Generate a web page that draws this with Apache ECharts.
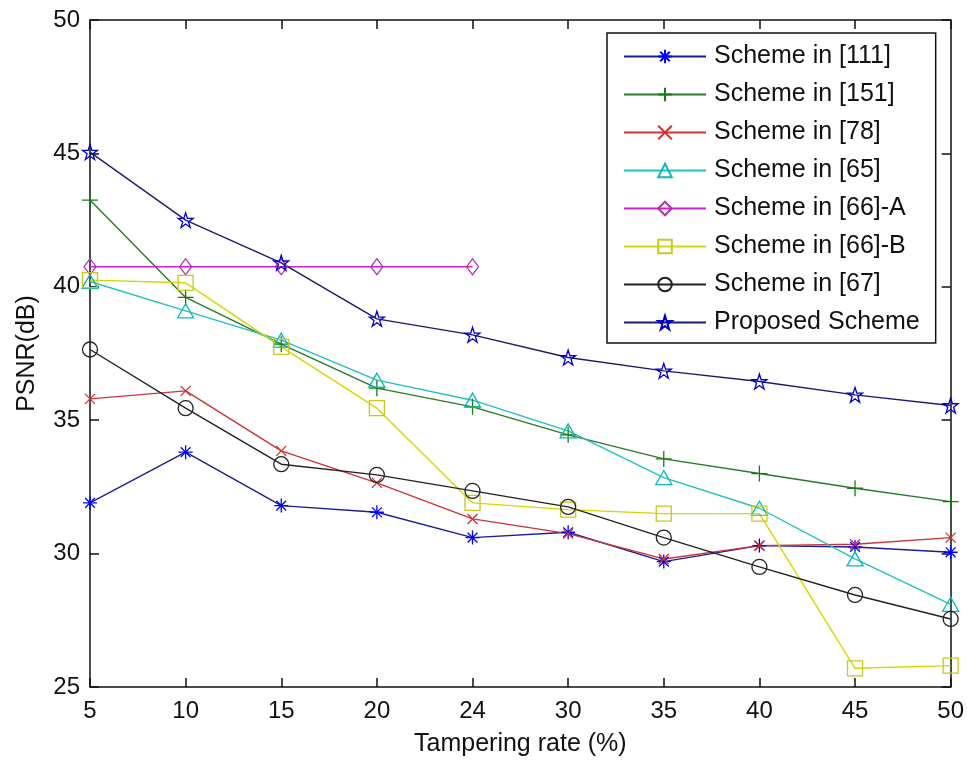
<!DOCTYPE html>
<html>
<head>
<meta charset="utf-8">
<script src="https://cdn.jsdelivr.net/npm/echarts@6/dist/echarts.min.js"></script>
<style>html,body{margin:0;padding:0;background:#fff}#c{width:967px;height:762px}</style>
</head>
<body>
<div id="c"></div>
<script>
var categories = ['5','10','15','20','24','30','35','40','45','50'];
var s111 = [31.9, 33.8, 31.8, 31.55, 30.6, 30.8, 29.7, 30.3, 30.25, 30.05];
var s151 = [43.25, 39.6, 37.85, 36.2, 35.5, 34.45, 33.55, 33.0, 32.45, 31.95];
var s78 = [35.8, 36.1, 33.85, 32.65, 31.3, 30.75, 29.8, 30.3, 30.35, 30.6];
var s65 = [40.2, 39.1, 38.0, 36.5, 35.75, 34.6, 32.85, 31.7, 29.8, 28.1];
var s66A = [40.75, 40.75, 40.75, 40.75, 40.75];
var s66B = [40.25, 40.15, 37.75, 35.45, 31.9, 31.65, 31.5, 31.5, 25.7, 25.8];
var s67 = [37.65, 35.45, 33.35, 32.95, 32.35, 31.75, 30.6, 29.5, 28.45, 27.55];
var sProp = [45.05, 42.5, 40.9, 38.8, 38.2, 37.35, 36.85, 36.45, 35.95, 35.55];
var seriesNames = ['Scheme in [111]','Scheme in [151]','Scheme in [78]','Scheme in [65]','Scheme in [66]-A','Scheme in [66]-B','Scheme in [67]','Proposed Scheme'];

var starPath = 'path://M0,-10L2.245,-3.09L9.511,-3.09L3.633,1.18L5.878,8.09L0,3.82L-5.878,8.09L-3.633,1.18L-9.511,-3.09L-2.245,-3.09Z';
var astPath = 'path://M0,-10L0,10M-10,0L10,0M-7,-7L7,7M-7,7L7,-7';
var plusPath = 'path://M0,-10L0,10M-10,0L10,0';
var xPath = 'path://M-10,-10L10,10M-10,10L10,-10';

function mk(name, data, lineColor, markColor, symbol, size) {
  return {
    name: name, type: 'line', data: data,
    symbol: symbol, symbolSize: size,
    lineStyle: { color: lineColor, width: 1.4 },
    itemStyle: { color: 'transparent', borderColor: markColor, borderWidth: 1.3 },
    emphasis: { disabled: true },
    z: 3
  };
}

var F = 'Liberation Sans, Arial, Helvetica, sans-serif';
var chart = echarts.init(document.getElementById('c'));
chart.setOption({
  animation: false,
  backgroundColor: '#fff',
  grid: { left: 90, right: 16, top: 20, bottom: 75 },
  legend: {
    orient: 'vertical', left: 607, top: 33,
    padding: [11, 16, 8, 16],
    backgroundColor: '#fff', borderColor: '#111', borderWidth: 1.5,
    itemWidth: 82, itemHeight: 17, itemGap: 13,
    textStyle: { fontFamily: F, fontSize: 25, color: '#111', lineHeight: 25, padding: [0,0,0,3] },
    data: seriesNames,
    selectedMode: false
  },
  xAxis: [{
    type: 'category', data: categories, boundaryGap: false,
    name: 'Tampering rate (%)', nameLocation: 'middle', nameGap: 45,
    nameTextStyle: { fontFamily: F, fontSize: 25, color: '#111' },
    axisLine: { lineStyle: { color: '#111', width: 1.5 } },
    axisTick: { inside: true, length: 9, lineStyle: { color: '#111', width: 1.5 } },
    axisLabel: { fontFamily: F, fontSize: 24, color: '#111', margin: 12 },
    splitLine: { show: false }
  }, {
    type: 'category', data: categories, boundaryGap: false, position: 'top',
    axisLine: { lineStyle: { color: '#111', width: 1.5 } },
    axisTick: { inside: true, length: 9, lineStyle: { color: '#111', width: 1.5 } },
    axisLabel: { show: false }
  }],
  yAxis: [{
    type: 'value', min: 25, max: 50, interval: 5,
    name: 'PSNR(dB)', nameLocation: 'middle', nameGap: 50,
    nameTextStyle: { fontFamily: F, fontSize: 25, color: '#111' },
    axisLine: { show: true, lineStyle: { color: '#111', width: 1.5 } },
    axisTick: { show: true, inside: true, length: 9, lineStyle: { color: '#111', width: 1.5 } },
    axisLabel: { fontFamily: F, fontSize: 24, color: '#111', margin: 10 },
    splitLine: { show: false }
  }, {
    type: 'value', min: 25, max: 50, interval: 5, position: 'right',
    axisLine: { show: true, lineStyle: { color: '#111', width: 1.5 } },
    axisTick: { show: true, inside: true, length: 9, lineStyle: { color: '#111', width: 1.5 } },
    axisLabel: { show: false },
    splitLine: { show: false }
  }],
  series: [
    mk(seriesNames[0], s111, '#1c1c9a', '#0000ff', astPath, 14),
    mk(seriesNames[1], s151, '#2a7a2a', '#1a7a1a', plusPath, 16),
    mk(seriesNames[2], s78, '#cc3535', '#d03030', xPath, 10),
    mk(seriesNames[3], s65, '#22c0c0', '#10b8b8', 'triangle', [16, 14]),
    mk(seriesNames[4], s66A, '#d020d0', '#b030b0', 'diamond', [12, 16]),
    mk(seriesNames[5], s66B, '#d6d600', '#c8c820', 'rect', 15),
    mk(seriesNames[6], s67, '#222222', '#222222', 'circle', 15),
    mk(seriesNames[7], sProp, '#1a1a70', '#0000c8', starPath, 15)
  ]
});
</script>
</body>
</html>
